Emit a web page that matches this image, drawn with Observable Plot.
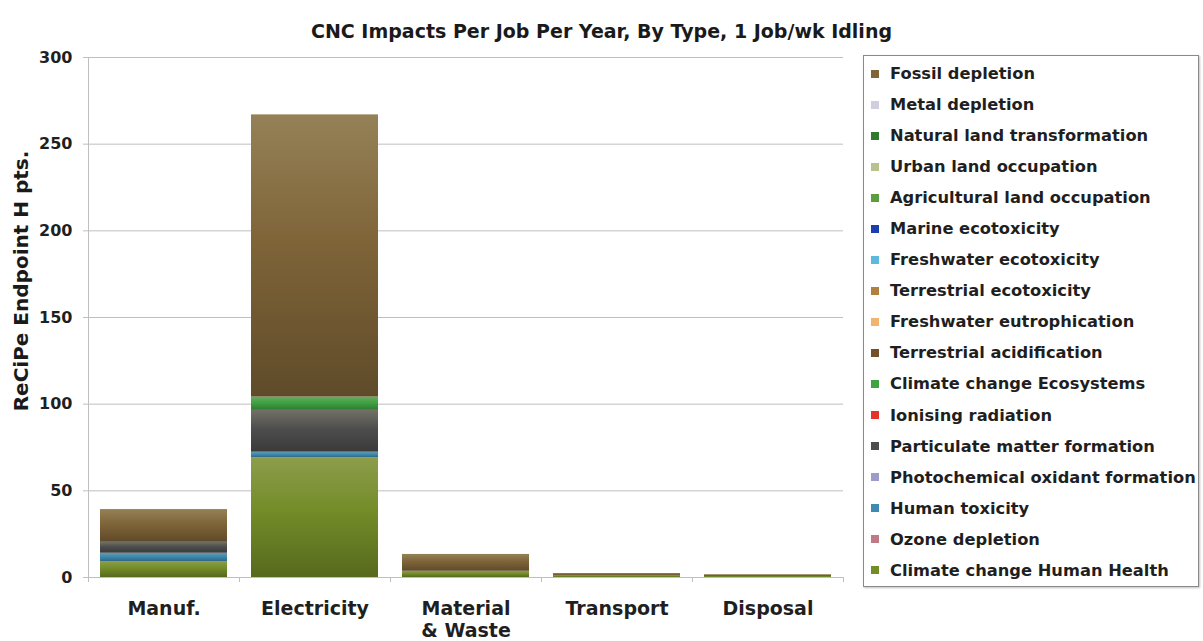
<!DOCTYPE html>
<html>
<head>
<meta charset="utf-8">
<script src="https://cdn.jsdelivr.net/npm/d3@7"></script>
<script src="https://cdn.jsdelivr.net/npm/@observablehq/plot@0.6"></script>
<style>
  body { margin: 0; background: #fff; font-family: "DejaVu Sans", sans-serif; }
  #wrap { position: relative; width: 1203px; height: 641px; overflow: hidden; background: #fff; }
  #title { position: absolute; left: 0; top: 19px; width: 1203px; text-align: center;
           font-size: 19px; font-weight: bold; color: #1a1a1a; line-height: 24px; }
  #chart { position: absolute; left: 0; top: 45px; }
  #ylabel { position: absolute; left: 21px; top: 281px; transform: translate(-50%, -50%) rotate(-90deg);
            white-space: nowrap; font-size: 20px; font-weight: bold; color: #1a1a1a; }
  #legend { position: absolute; left: 863px; top: 55px; width: 336px; height: 532px;
            border: 1px solid #8a8a8a; box-sizing: border-box; padding-top: 2px;
            box-shadow: 1px 1px 2px rgba(0,0,0,0.25); }
  .item { height: 31.06px; display: flex; align-items: center; font-size: 16.3px; font-weight: bold; color: #1f1f1f; white-space: nowrap; }
  .sw { width: 8px; height: 8px; margin-left: 7px; margin-right: 11px; flex: none; }
</style>
</head>
<body>
<div id="wrap">
  <div id="title"></div>
  <div id="chart"></div>
  <div id="ylabel"></div>
  <div id="legend"></div>
</div>
<svg width="0" height="0" style="position:absolute;left:0;top:0"><defs id="grads"></defs></svg>
<script>
// ---- Data ----
const titleText = "CNC Impacts Per Job Per Year, By Type, 1 Job/wk Idling";
const yLabelText = "ReCiPe Endpoint H pts.";
const stages = ["Manuf.", "Electricity", "Material\n& Waste", "Transport", "Disposal"];
const yTicks = [0, 50, 100, 150, 200, 250, 300];

// impact categories, stacking order from the bottom up
const impacts = [
  "Climate change Human Health", "Ozone depletion", "Human toxicity",
  "Photochemical oxidant formation", "Particulate matter formation", "Ionising radiation",
  "Climate change Ecosystems", "Terrestrial acidification", "Freshwater eutrophication",
  "Terrestrial ecotoxicity", "Freshwater ecotoxicity", "Marine ecotoxicity",
  "Agricultural land occupation", "Urban land occupation", "Natural land transformation",
  "Metal depletion", "Fossil depletion"
];

// values per stage (Manuf., Electricity, Material & Waste, Transport, Disposal)
const climateChangeHumanHealth      = [9.2, 69.1, 3.6, 0.8, 0.6];
const ozoneDepletion                = [0, 0, 0, 0, 0];
const humanToxicity                 = [4.8, 3.2, 0, 0, 0];
const photochemicalOxidantFormation = [0, 0, 0, 0, 0];
const particulateMatterFormation    = [6.3, 24.1, 0, 0, 0];
const ionisingRadiation             = [0, 0, 0, 0, 0];
const climateChangeEcosystems       = [0, 7.7, 0, 0, 0];
const terrestrialAcidification      = [0, 0, 0, 0, 0];
const freshwaterEutrophication      = [0, 0, 0, 0, 0];
const terrestrialEcotoxicity        = [0, 0, 0, 0, 0];
const freshwaterEcotoxicity         = [0, 0, 0, 0, 0];
const marineEcotoxicity             = [0, 0, 0, 0, 0];
const agriculturalLandOccupation    = [0, 0, 0, 0, 0];
const urbanLandOccupation           = [0, 0, 0, 0, 0];
const naturalLandTransformation     = [0, 0, 0, 0, 0];
const metalDepletion                = [0, 0, 0, 0, 0];
const fossilDepletion               = [18.9, 162.8, 9.7, 1.5, 1.0];

const seriesValues = [
  climateChangeHumanHealth, ozoneDepletion, humanToxicity, photochemicalOxidantFormation,
  particulateMatterFormation, ionisingRadiation, climateChangeEcosystems, terrestrialAcidification,
  freshwaterEutrophication, terrestrialEcotoxicity, freshwaterEcotoxicity, marineEcotoxicity,
  agriculturalLandOccupation, urbanLandOccupation, naturalLandTransformation, metalDepletion,
  fossilDepletion
];

// ---- Styles ----
const impactColors = [
  "#738c28", "#c07a86", "#3e8ab0", "#9c9cc8", "#4d4d4d", "#e2342a",
  "#3fa243", "#74502a", "#f2b36e", "#b08040", "#5cb8dc", "#1c3fb0",
  "#5a9e40", "#b8c28e", "#2f7a2c", "#cfcfe0", "#7f6438"
];

// gradients (lighter top, darker bottom) like the original bars
const defs = d3.select("#grads");
impactColors.forEach((c, i) => {
  const g = defs.append("linearGradient").attr("id", "g" + i)
    .attr("x1", 0).attr("y1", 0).attr("x2", 0).attr("y2", 1);
  g.append("stop").attr("offset", "0%").attr("stop-color", d3.interpolateRgb(c, "#c8c4a0")(0.3));
  g.append("stop").attr("offset", "45%").attr("stop-color", c);
  g.append("stop").attr("offset", "100%").attr("stop-color", d3.rgb(c).darker(0.8).formatHex());
});

const rows = [];
impacts.forEach((imp, i) => {
  stages.forEach((s, j) => rows.push({stage: s, impact: imp, value: seriesValues[i][j]}));
});

const W = 860, H = 596, ML = 88, MR = 17, MT = 12, MB = 64;
const step = (W - ML - MR) / stages.length;
const gridColor = "#bfbfbf";

const chart = Plot.plot({
  width: W, height: H,
  marginLeft: ML, marginRight: MR, marginTop: MT, marginBottom: MB,
  style: {fontFamily: "'DejaVu Sans', sans-serif", color: "#1f1f1f", background: "transparent"},
  x: {domain: stages, paddingInner: 0.16, paddingOuter: 0.08, label: null},
  y: {domain: [0, 300], label: null},
  color: {domain: impacts, range: impacts.map((d, i) => `url(#g${i})`)},
  marks: [
    Plot.gridY(yTicks, {stroke: gridColor, strokeOpacity: 1}),
    Plot.barY(rows, {x: "stage", y: "value", fill: "impact"}),
    Plot.ruleY([0], {stroke: gridColor}),
    Plot.ruleX([stages[0]], {x: d => d, dx: -step / 2, stroke: gridColor}),
    Plot.ruleX(stages, {x: d => d, dx: -step / 2, y1: 0, y2: 0, insetBottom: -5, stroke: gridColor}),
    Plot.ruleX([stages[stages.length - 1]], {x: d => d, dx: step / 2, y1: 0, y2: 0, insetBottom: -5, stroke: gridColor}),
    Plot.axisY(yTicks, {tickSize: 5, tickPadding: 11, fontSize: 16, fontWeight: "bold", stroke: gridColor, label: null}),
    Plot.axisX({tickSize: 0, tickPadding: 21, fontSize: 19, fontWeight: "bold", lineHeight: 1.2, label: null})
  ]
});
document.getElementById("chart").appendChild(chart);

document.getElementById("title").textContent = titleText;
document.getElementById("ylabel").textContent = yLabelText;

const legend = d3.select("#legend");
impacts.slice().reverse().forEach(imp => {
  const i = impacts.indexOf(imp);
  const row = legend.append("div").attr("class", "item");
  row.append("div").attr("class", "sw").style("background", impactColors[i]);
  row.append("span").text(imp);
});
</script>
</body>
</html>
